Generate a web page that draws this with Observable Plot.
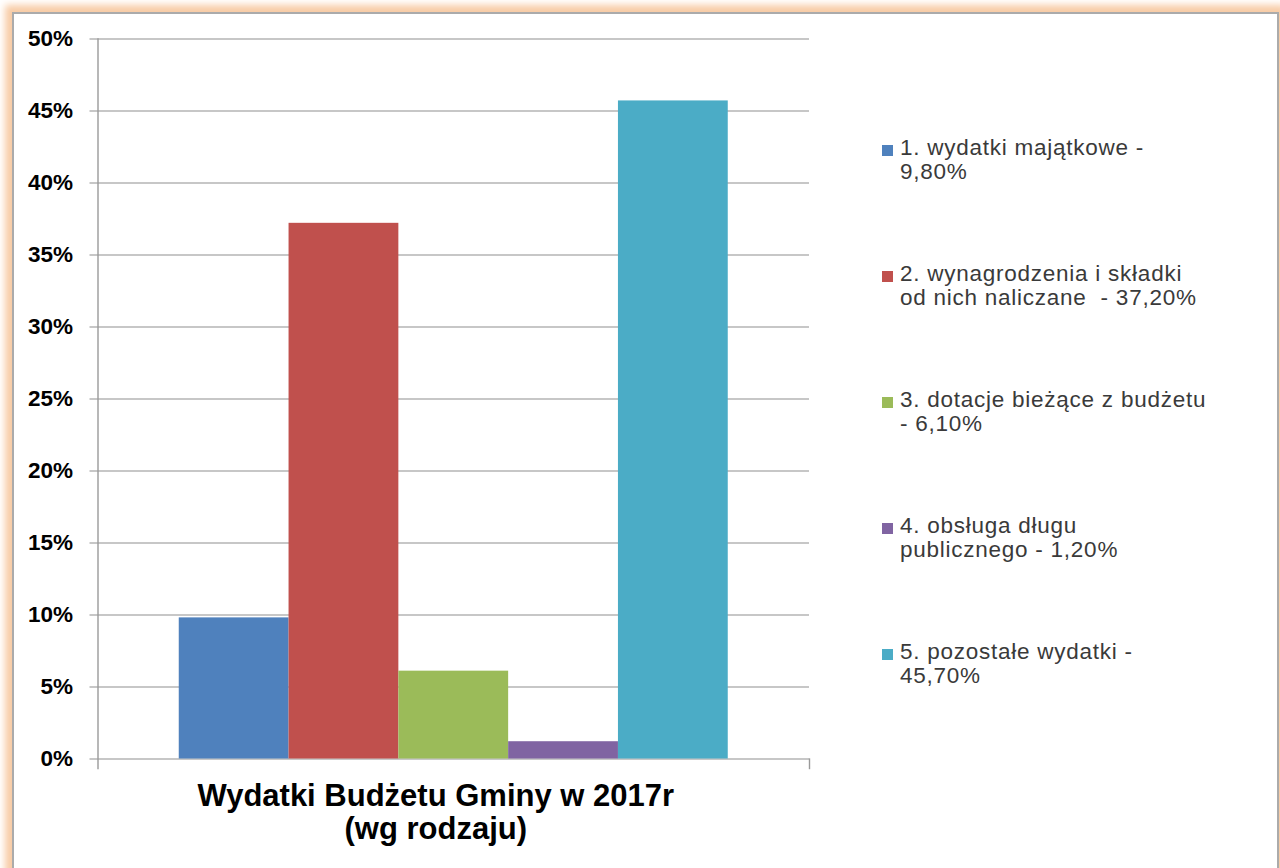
<!DOCTYPE html>
<html>
<head>
<meta charset="utf-8">
<script src="https://cdn.jsdelivr.net/npm/d3@7"></script>
<script src="https://cdn.jsdelivr.net/npm/@observablehq/plot@0.6"></script>
<style>
  html, body { margin: 0; padding: 0; background: #ffffff; width: 1280px; height: 868px; overflow: hidden; }
  body { position: relative; font-family: Arial, "Liberation Sans", sans-serif; }
  #frame { position: absolute; left: 12px; top: 12px; width: 1263px; height: 920px;
           border: 2px solid #ababab; background: #ffffff;
           box-shadow: 0 0 7px 7px #f8cca6; }
  #chart { position: absolute; left: 0; top: 0; }
  #legend { position: absolute; left: 0; top: 0; }
  .item { position: absolute; left: 882px; }
  .swatch { position: absolute; left: 0; width: 11px; height: 11px; }
  .label { position: absolute; left: 18px; white-space: pre; font-size: 22.5px; line-height: 24px;
           letter-spacing: 0.75px; color: #3a3a3a; }
</style>
</head>
<body>
<div id="frame"></div>
<div id="chart"></div>
<div id="legend"></div>
<script>
// ---- data ----
const category = "Wydatki Budżetu Gminy w 2017r\n(wg rodzaju)";
const series = [
  "1. wydatki majątkowe",
  "2. wynagrodzenia i składki od nich naliczane",
  "3. dotacje bieżące z budżetu",
  "4. obsługa długu publicznego",
  "5. pozostałe wydatki"
];
const values = [9.8, 37.2, 6.1, 1.2, 45.7];
const colors = ["#4f81bd", "#c0504d", "#9bbb59", "#8064a2", "#4bacc6"];
const legendLabels = [
  "1. wydatki majątkowe -\n9,80%",
  "2. wynagrodzenia i składki\nod nich naliczane  - 37,20%",
  "3. dotacje bieżące z budżetu\n- 6,10%",
  "4. obsługa długu\npublicznego - 1,20%",
  "5. pozostałe wydatki -\n45,70%"
];
const yTicks = [0, 5, 10, 15, 20, 25, 30, 35, 40, 45, 50];

const data = series.map((s, i) => ({category, series: s, value: values[i]}));

const chart = Plot.plot({
  width: 1280,
  height: 868,
  marginLeft: 97.5,
  marginRight: 471,
  marginTop: 38.5,
  marginBottom: 109.5,
  style: {background: "transparent", fontFamily: "Arial, 'Liberation Sans', sans-serif", overflow: "visible"},
  fx: {domain: [category], padding: 0, label: null, round: false},
  x: {domain: series, paddingInner: 0, paddingOuter: 0.74, round: false, axis: null},
  y: {domain: [0, 50], label: null, axis: null},
  color: {domain: series, range: colors},
  marks: [
    Plot.ruleY(yTicks, {stroke: "#b4b4b4", strokeWidth: 1.4, insetLeft: -8}),
    Plot.barY(data, {fx: "category", x: "series", y: "value", fill: "series"}),
    Plot.frame({anchor: "left", stroke: "#9a9a9a", strokeWidth: 1.4, insetBottom: -9.5}),
    Plot.frame({anchor: "right", stroke: "#9a9a9a", strokeWidth: 1.4, insetTop: 720, insetBottom: -9.5}),
    Plot.axisY(yTicks, {anchor: "left", tickSize: 0, tickPadding: 25, tickFormat: d => d + "%",
      fontSize: 22.5, fontWeight: "bold", fill: "#000", label: null}),
    Plot.axisFx({anchor: "bottom", tickSize: 0, tickPadding: 23, dx: -18, fontSize: 31, fontWeight: "bold",
      fill: "#000", lineHeight: 1.08, label: null, style: "letter-spacing: 0.4px"})
  ]
});
document.getElementById("chart").appendChild(chart);

// ---- legend ----
const legend = d3.select("#legend");
legendLabels.forEach((lab, i) => {
  const top = 135.5 + i * 126;
  const item = legend.append("div").attr("class", "item").style("top", top + "px");
  item.append("div").attr("class", "swatch").style("top", "9.5px").style("background", colors[i]);
  item.append("div").attr("class", "label").style("top", "0px").text(lab);
});
</script>
</body>
</html>
